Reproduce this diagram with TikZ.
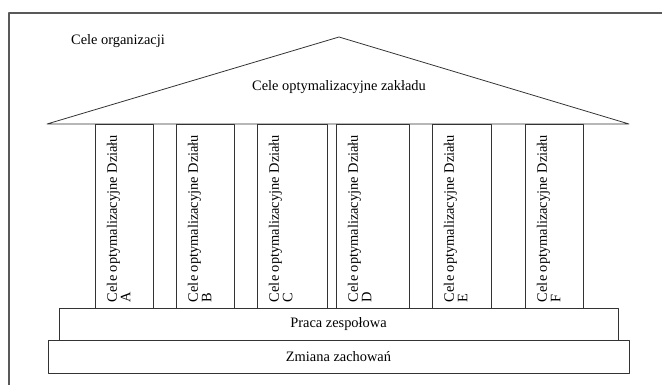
\documentclass[tikz,border=0pt]{standalone}
\usepackage{fontspec}
\setmainfont{Liberation Serif}
\usetikzlibrary{positioning}
\begin{document}
\begin{tikzpicture}[y=-1pt, x=1pt, inner sep=0pt, outer sep=0pt,
  line join=round, font=\fontsize{14.4}{13.5}\selectfont,
  pillar/.style={draw=black!80, line width=0.8pt, minimum height=184pt},
  slab/.style={draw=black!80, line width=0.8pt, minimum height=32.5pt},
  pillartext/.style={xshift=12pt, yshift=6pt, rotate=90, anchor=north west, align=left}]
\useasboundingbox (0,0) rectangle (662,385);
% frame
\path[draw=black!65, line width=1.2pt] (9,385) -- (9,13) -- (662,13);
\node (org) at (118,41) {Cele organizacji};
% roof
\path[draw=black!80, line width=0.8pt] (47,124) -- (339,37) -- (629,124) -- cycle;
\node (roof) at (339,87) {Cele optymalizacyjne zakładu};
% columns
\node[pillar, minimum width=58pt] (colA) at (124,216) {};
\node[pillar, minimum width=58pt] (colB) at (205,216) {};
\node[pillar, minimum width=70pt] (colC) at (292,216) {};
\node[pillar, minimum width=73pt] (colD) at (372.5,216) {};
\node[pillar, minimum width=59pt] (colE) at (461.5,216) {};
\node[pillar, minimum width=58pt] (colF) at (554,216) {};
\node[pillartext] (txtA) at (colA.south west) {Cele optymalizacyjne Działu\\A};
\node[pillartext] (txtB) at (colB.south west) {Cele optymalizacyjne Działu\\B};
\node[pillartext] (txtC) at (colC.south west) {Cele optymalizacyjne Działu\\C};
\node[pillartext] (txtD) at (colD.south west) {Cele optymalizacyjne Działu\\D};
\node[pillartext] (txtE) at (colE.south west) {Cele optymalizacyjne Działu\\E};
\node[pillartext] (txtF) at (colF.south west) {Cele optymalizacyjne Działu\\F};
% base
\node[slab, minimum width=559pt] (team) at (338.5,324.5) {Praca zespołowa};
\node[slab, minimum width=581pt] (change) at (338.5,357) {Zmiana zachowań};
\end{tikzpicture}
\end{document}
